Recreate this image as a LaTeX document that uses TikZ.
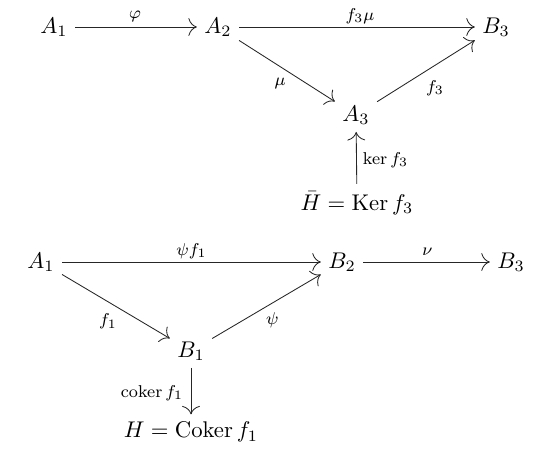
\documentclass[tikz,border=0pt]{standalone}
\usepackage{graphicx}
\usepackage{amsmath}
\usetikzlibrary{arrows.meta}
\newcommand{\objm}[1]{\scalebox{1.06}{$#1$}}
\begin{document}
\begin{tikzpicture}[x=0.467pt,y=-0.467pt,
  obj/.style={inner sep=3.3pt},
  lbl/.style={font=\footnotesize, inner sep=0pt, pos=0.5},
  arr/.style={-{To[scale=1.6]}, line width=0.4pt, draw=black!85}]
\useasboundingbox (0,0) rectangle (540,456);
% top diagram
\node[obj] (a1t) at (54,27) {\objm{A_1}};
\node[obj] (a2t) at (218,27) {\objm{A_2}};
\node[obj] (b3t) at (496,27) {\objm{B_3}};
\node[obj] (a3) at (356,115) {\objm{A_3}};
\node[obj] (hbar) at (357,203) {\objm{\bar H = \operatorname{Ker} f_3}};
\draw[arr] (a1t) -- node[lbl, shift={(-1,-11)}] {$\varphi$} (a2t);
\draw[arr] (a2t) -- node[lbl, shift={(3,-11)}] {$f_3\mu$} (b3t);
\draw[arr] (a2t) -- node[lbl, shift={(-7,12)}] {$\mu$} (a3);
\draw[arr] (a3) -- node[lbl, shift={(9,17)}] {$f_3$} (b3t);
\draw[arr] (hbar) -- node[lbl, shift={(29,2)}] {$\ker f_3$} (a3);
% bottom diagram
\node[obj] (a1b) at (41,262) {\objm{A_1}};
\node[obj] (b2) at (342,262) {\objm{B_2}};
\node[obj] (b3b) at (511,262) {\objm{B_3}};
\node[obj] (b1) at (191,351) {\objm{B_1}};
\node[obj] (h) at (191,432) {\objm{H = \operatorname{Coker} f_1}};
\draw[arr] (a1b) -- node[lbl, shift={(0,-11)}] {$\psi f_1$} (b2);
\draw[arr] (b2) -- node[lbl, shift={(1,-10)}] {$\nu$} (b3b);
\draw[arr] (a1b) -- node[lbl, shift={(-8,15)}] {$f_1$} (b1);
\draw[arr] (b1) -- node[lbl, shift={(6,14)}] {$\psi$} (b2);
\draw[arr] (b1) -- node[lbl, shift={(-39,2)}] {$\operatorname{coker} f_1$} (h);
\end{tikzpicture}
\end{document}
